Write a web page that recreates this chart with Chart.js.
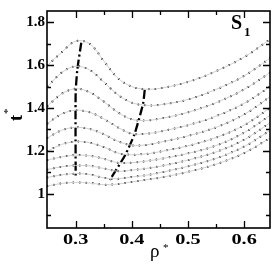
<!DOCTYPE html>
<html><head><meta charset="utf-8">
<script src="https://cdn.jsdelivr.net/npm/chart.js@4"></script>
<style>html,body{margin:0;padding:0;background:#fff;overflow:hidden}</style>
</head><body>
<canvas id="c" width="273" height="266" style="display:block;width:273px;height:266px"></canvas>
<script>
// density grid (x values)
const rho = [0.25, 0.275, 0.30, 0.325, 0.35, 0.375, 0.40, 0.425, 0.45, 0.50, 0.55, 0.60, 0.65];
// curves, top to bottom
const c1  = [1.600, 1.660, 1.712, 1.700, 1.620, 1.540, 1.500, 1.488, 1.492, 1.522, 1.572, 1.638, 1.728];
const c2  = [1.500, 1.565, 1.595, 1.578, 1.522, 1.462, 1.425, 1.413, 1.415, 1.440, 1.487, 1.550, 1.640];
const c3  = [1.410, 1.466, 1.490, 1.474, 1.430, 1.380, 1.347, 1.342, 1.350, 1.380, 1.425, 1.487, 1.572];
const c4  = [1.328, 1.372, 1.390, 1.380, 1.350, 1.310, 1.280, 1.280, 1.290, 1.320, 1.362, 1.422, 1.507];
const c5  = [1.261, 1.296, 1.310, 1.302, 1.278, 1.245, 1.226, 1.228, 1.240, 1.270, 1.310, 1.370, 1.460];
const c6  = [1.199, 1.230, 1.243, 1.238, 1.218, 1.190, 1.182, 1.186, 1.196, 1.224, 1.262, 1.320, 1.408];
const c7  = [1.157, 1.172, 1.180, 1.177, 1.163, 1.145, 1.145, 1.152, 1.162, 1.188, 1.225, 1.285, 1.373];
const c8  = [1.113, 1.126, 1.132, 1.130, 1.118, 1.105, 1.110, 1.118, 1.128, 1.157, 1.195, 1.252, 1.338];
const c9  = [1.076, 1.088, 1.094, 1.090, 1.074, 1.070, 1.078, 1.086, 1.098, 1.128, 1.165, 1.220, 1.302];
const c10 = [1.036, 1.048, 1.053, 1.050, 1.042, 1.045, 1.055, 1.065, 1.075, 1.102, 1.138, 1.190, 1.266];
const curves = [c1, c2, c3, c4, c5, c6, c7, c8, c9, c10];
// loci of maxima and minima (dash-dot lines)
const maxLocX = [0.310, 0.303, 0.300, 0.300];
const maxLocY = [1.705, 1.580, 1.470, 1.085];
const minLocX = [0.423, 0.420, 0.405, 0.388, 0.361];
const minLocY = [1.485, 1.420, 1.280, 1.180, 1.065];
// ticks
const xTicks = [0.3, 0.4, 0.5, 0.6];
const yTicks = [1, 1.2, 1.4, 1.6, 1.8];
const xMinor = [0.35, 0.45, 0.55];
const yMinor = [0.9, 1.1, 1.3, 1.5, 1.7];
const xTitle = 'ρ', yTitle = 't', star = '*';
const panelLabel = 'S', panelSub = '1';

const pts = (xs, ys) => xs.map((x, i) => ({x: x, y: ys[i]}));
const datasets = [];
curves.forEach(c => datasets.push({data: pts(rho, c), borderColor: '#cfcfcf', borderWidth: 1, pointRadius: 0, tension: 0.35, fill: false}));
curves.forEach(c => datasets.push({data: pts(rho, c), borderColor: '#000', borderWidth: 2, borderDash: [0, 6.5], borderCapStyle: 'round', pointRadius: 0, tension: 0.35, fill: false}));
[[maxLocX, maxLocY], [minLocX, minLocY]].forEach(([xs, ys]) => datasets.push({data: pts(xs, ys), borderColor: '#000', borderWidth: 2.3, borderDash: [9, 3, 2, 3], pointRadius: 0, tension: 0.2, fill: false}));

const FONT = '"Liberation Serif", "DejaVu Serif", serif';
const deco = {
  id: 'deco',
  afterDraw(chart) {
    const ctx = chart.ctx, a = chart.chartArea, xs = chart.scales.x, ys = chart.scales.y;
    ctx.save();
    ctx.strokeStyle = '#000';
    ctx.lineWidth = 1.6;
    ctx.strokeRect(a.left, a.top, a.right - a.left, a.bottom - a.top);
    ctx.lineWidth = 1.3;
    ctx.beginPath();
    const tx = (vals, len) => vals.forEach(v => { const p = Math.round(xs.getPixelForValue(v)) + 0.5; ctx.moveTo(p, a.bottom); ctx.lineTo(p, a.bottom - len); ctx.moveTo(p, a.top); ctx.lineTo(p, a.top + len); });
    const ty = (vals, len) => vals.forEach(v => { const p = Math.round(ys.getPixelForValue(v)) + 0.5; ctx.moveTo(a.left, p); ctx.lineTo(a.left + len, p); ctx.moveTo(a.right, p); ctx.lineTo(a.right - len, p); });
    tx(xTicks, 7); tx(xMinor, 4); ty(yTicks, 7); ty(yMinor, 4);
    ctx.stroke();
    ctx.fillStyle = '#000';
    // x tick labels (horizontally stretched as in the original)
    ctx.font = 'bold 14px ' + FONT;
    ctx.textAlign = 'center'; ctx.textBaseline = 'alphabetic';
    xs.ticks.forEach(t => {
      const p = xs.getPixelForValue(t.value);
      ctx.save(); ctx.translate(p, 244); ctx.scale(1.45, 1);
      ctx.fillText(String(t.value), 0, 0);
      ctx.restore();
    });
    // x title
    ctx.textAlign = 'left';
    ctx.font = '19px ' + FONT;
    ctx.fillText(xTitle, 150, 257);
    ctx.font = '11px ' + FONT;
    ctx.fillText(star, 163, 251);
    // y title
    ctx.save();
    ctx.translate(22, 121);
    ctx.rotate(-Math.PI / 2);
    ctx.font = 'bold 18px ' + FONT;
    ctx.fillText(yTitle, 0, 0);
    ctx.font = '11px ' + FONT;
    ctx.fillText(star, 7, -11);
    ctx.restore();
    // panel label
    ctx.font = 'bold 20px ' + FONT;
    ctx.fillText(panelLabel, 231, 29);
    ctx.font = 'bold 13px ' + FONT;
    ctx.fillText(panelSub, 244, 36);
    ctx.restore();
  }
};

new Chart(document.getElementById('c'), {
  type: 'line',
  data: {datasets: datasets},
  options: {
    responsive: false, animation: false, devicePixelRatio: 1,
    layout: {padding: {top: 1, right: 3, left: 0, bottom: 0}},
    plugins: {legend: {display: false}, tooltip: {enabled: false}},
    scales: {
      x: {
        type: 'linear', min: 0.249, max: 0.646,
        afterBuildTicks: s => { s.ticks = xTicks.map(v => ({value: v})); },
        afterFit: s => { s.height = 38; },
        grid: {display: false, drawTicks: false},
        border: {display: false},
        ticks: {display: false}
      },
      y: {
        type: 'linear', min: 0.84, max: 1.853,
        afterBuildTicks: s => { s.ticks = yTicks.map(v => ({value: v})); },
        afterFit: s => { s.width = 47; },
        grid: {display: false, drawTicks: false},
        border: {display: false},
        ticks: {padding: 2, color: '#000', font: {family: FONT, size: 15, weight: 'bold'}, callback: v => String(v)}
      }
    }
  },
  plugins: [deco]
});
</script>
</body></html>
